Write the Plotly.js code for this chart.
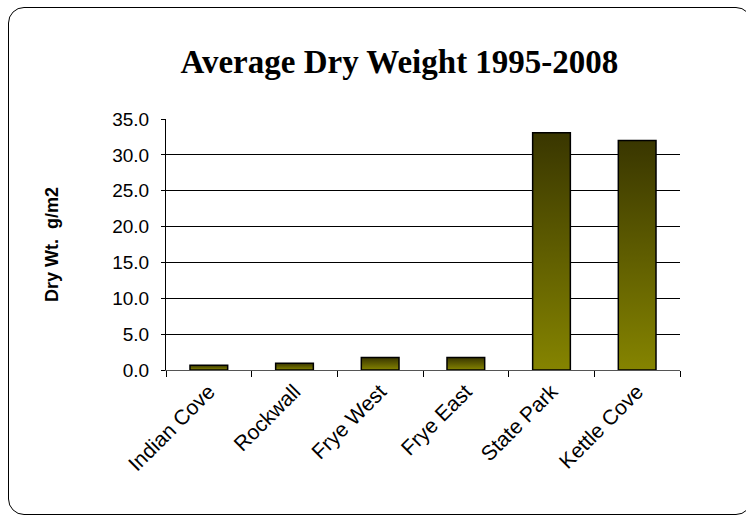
<!DOCTYPE html>
<html>
<head>
<meta charset="utf-8">
<script src="https://cdn.plot.ly/plotly-3.0.1.min.js"></script>
<style>
  html, body { margin: 0; padding: 0; background: #fff; }
  #wrap { position: relative; width: 746px; height: 515px; overflow: hidden; }
  #chart { width: 746px; height: 515px; }
  #frame { position: absolute; left: 8px; top: 7px; width: 744px; height: 508px;
           box-sizing: border-box; border: 1.5px solid #000; border-radius: 16px; pointer-events: none; }
</style>
</head>
<body>
<div id="wrap">
  <div id="chart"></div>
  <div id="frame"></div>
</div>
<script>
const sites = ["Indian Cove", "Rockwall", "Frye West", "Frye East", "State Park", "Kettle Cove"];
const dryWeight = [0.65, 0.93, 1.73, 1.73, 33.1, 32.0];
const yTicks = [0, 5, 10, 15, 20, 25, 30, 35];
const yTickText = ["0.0", "5.0", "10.0", "15.0", "20.0", "25.0", "30.0", "35.0"];

const trace = {
  type: "bar",
  x: sites,
  y: dryWeight,
  marker: { color: "#6b6a00", line: { color: "#000", width: 1.5 } },
  hoverinfo: "x+y"
};

const layout = {
  width: 746, height: 515,
  paper_bgcolor: "rgba(0,0,0,0)", plot_bgcolor: "rgba(0,0,0,0)",
  margin: { l: 166, r: 66, t: 119, b: 145 },
  bargap: 0.56,
  showlegend: false,
  title: {
    text: "<b>Average Dry Weight 1995-2008</b>",
    font: { family: "Liberation Serif, Times New Roman, serif", size: 33, color: "#000" },
    x: 0.5355, xanchor: "center", xref: "container",
    y: 0.880, yanchor: "middle", yref: "container"
  },
  xaxis: {
    type: "category",
    tickangle: -45,
    tickfont: { family: "Liberation Sans, Arial, sans-serif", size: 21, color: "#000" },
    ticks: "outside", tickson: "boundaries", ticklen: 6, tickcolor: "#000", tickwidth: 1,
    showline: true, linecolor: "#555", linewidth: 1,
    showgrid: false, zeroline: false
  },
  yaxis: {
    range: [0, 35],
    tickvals: yTicks, ticktext: yTickText,
    tickfont: { family: "Liberation Sans, Arial, sans-serif", size: 19, color: "#000" },
    ticks: "outside", ticklen: 4, tickcolor: "#000", ticklabelstandoff: 8,
    showline: true, linecolor: "#000", linewidth: 1,
    showgrid: true, gridcolor: "#000", gridwidth: 1,
    zeroline: false,
    title: { text: "<b>Dry Wt.  g/m2</b>", font: { family: "Liberation Sans, Arial, sans-serif", size: 18, color: "#000" }, standoff: 48 }
  }
};

function applyGradient() {
  const gd = document.getElementById("chart");
  const svg = gd.querySelector("svg.main-svg");
  if (!svg) return;
  let defs = svg.querySelector("defs");
  if (!defs) { defs = document.createElementNS("http://www.w3.org/2000/svg", "defs"); svg.insertBefore(defs, svg.firstChild); }
  if (!svg.querySelector("#barGrad")) {
    const ns = "http://www.w3.org/2000/svg";
    const g = document.createElementNS(ns, "linearGradient");
    g.setAttribute("id", "barGrad");
    g.setAttribute("x1", "0"); g.setAttribute("y1", "0");
    g.setAttribute("x2", "0"); g.setAttribute("y2", "1");
    const s1 = document.createElementNS(ns, "stop");
    s1.setAttribute("offset", "0"); s1.setAttribute("stop-color", "#393600");
    const s2 = document.createElementNS(ns, "stop");
    s2.setAttribute("offset", "1"); s2.setAttribute("stop-color", "#858400");
    g.appendChild(s1); g.appendChild(s2);
    defs.appendChild(g);
  }
  gd.querySelectorAll(".barlayer .point path").forEach(p => { p.style.fill = "url(#barGrad)"; });
}

Plotly.newPlot("chart", [trace], layout, { displayModeBar: false, staticPlot: true }).then(gd => {
  applyGradient();
  gd.on("plotly_afterplot", applyGradient);
});
</script>
</body>
</html>
